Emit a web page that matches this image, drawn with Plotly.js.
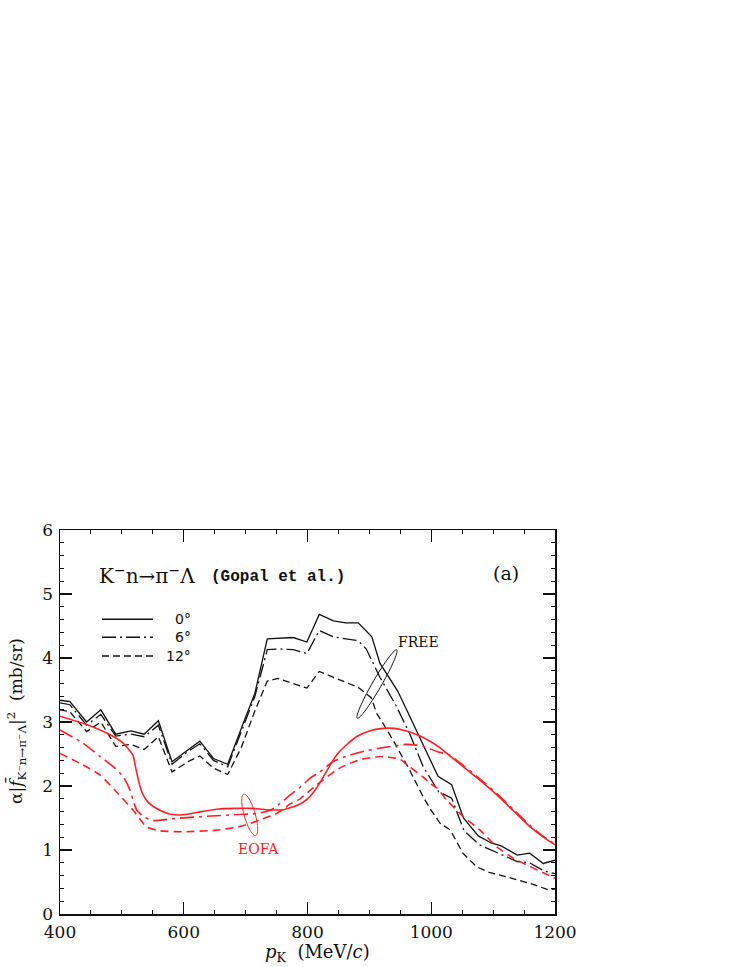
<!DOCTYPE html>
<html>
<head>
<meta charset="utf-8">
<script src="https://cdn.plot.ly/plotly-3.0.1.min.js"></script>
<style>
html,body{margin:0;padding:0;background:#fff;}
#chart{width:747px;height:967px;}
</style>
</head>
<body>
<div id="chart"></div>
<script>
// ---- FREE (black) curves ----
const freeX0 = [400,416,443,466,490,515,536,559,581,607,626,648,671,695,715,735,755,777,799,819,842,862,882,904,917,946,968,1011,1033,1052,1076,1097,1114,1139,1159,1181,1200];
const freeY0 = [3.34,3.32,3.00,3.19,2.81,2.86,2.81,3.02,2.38,2.57,2.70,2.43,2.34,2.95,3.45,4.30,4.31,4.32,4.25,4.68,4.58,4.55,4.55,4.33,3.92,3.48,3.03,2.15,2.02,1.50,1.22,1.11,1.06,0.92,0.95,0.79,0.84];

const freeX6 = [400,416,443,466,490,515,536,559,581,607,626,648,671,695,715,735,755,777,799,819,842,862,882,895,917,944,965,987,1012,1033,1053,1078,1096,1114,1139,1159,1183,1200];
const freeY6 = [3.30,3.27,2.95,3.12,2.78,2.81,2.77,2.95,2.34,2.54,2.66,2.40,2.30,2.90,3.40,4.13,4.14,4.13,4.07,4.43,4.33,4.30,4.27,4.14,3.70,3.24,2.82,2.30,1.91,1.81,1.30,1.08,1.00,0.93,0.82,0.80,0.67,0.63];

const freeX12 = [400,416,443,466,490,515,536,559,581,607,626,648,671,693,714,735,752,799,819,842,862,882,903,912,922,941,965,987,998,1014,1031,1051,1073,1095,1122,1159,1189,1200];
const freeY12 = [3.19,3.16,2.85,3.00,2.62,2.65,2.57,2.77,2.22,2.38,2.47,2.28,2.18,2.60,3.15,3.64,3.68,3.53,3.79,3.70,3.62,3.54,3.38,3.13,2.98,2.67,2.25,1.83,1.65,1.42,1.31,0.95,0.74,0.645,0.58,0.48,0.38,0.39];

// ---- EOFA (red) curves ----
const eofaX0 = [400,446,481,502,518,522,527,533,541,551,564,578,599,629,656,683,710,734,761,772,788,800,812,825,838,850,865,879,900,922,940,960,980,998,1014,1030,1052,1080,1106,1133,1160,1180,1200];
const eofaY0 = [3.09,2.95,2.80,2.67,2.48,2.30,2.08,1.89,1.76,1.68,1.61,1.56,1.55,1.60,1.64,1.65,1.65,1.63,1.63,1.66,1.72,1.80,1.93,2.13,2.35,2.52,2.66,2.77,2.86,2.90,2.90,2.86,2.79,2.70,2.60,2.47,2.30,2.08,1.86,1.61,1.36,1.21,1.08];

const eofaX6 = [400,437,465,490,502,513,518,524,535,551,583,626,680,718,740,755,772,788,804,820,841,868,890,922,960,987,1009,1030,1052,1080,1106,1133,1160,1180,1200];
const eofaY6 = [2.875,2.67,2.46,2.27,2.15,1.94,1.78,1.625,1.52,1.46,1.49,1.52,1.55,1.57,1.62,1.72,1.86,1.98,2.12,2.22,2.38,2.48,2.54,2.60,2.65,2.62,2.54,2.48,2.32,2.10,1.88,1.63,1.38,1.22,1.09];

const eofaX12 = [400,437,465,491,518,540,561,599,653,685,700,723,750,761,772,788,815,852,884,917,949,965,987,998,1009,1025,1052,1079,1106,1133,1160,1180,1200];
const eofaY12 = [2.51,2.33,2.17,1.91,1.625,1.36,1.30,1.285,1.31,1.355,1.39,1.47,1.57,1.64,1.72,1.80,2.02,2.28,2.41,2.46,2.42,2.30,2.14,2.04,1.97,1.78,1.52,1.31,1.05,0.87,0.74,0.65,0.56];

// tick labels / legend labels
const xTickVals = [400,600,800,1000,1200];
const yTickVals = [0,1,2,3,4,5,6];
const legendLabels = ['0°','6°','12°'];

const RED = 'rgb(255,32,40)';
const BLACK = '#111';

const serif = '"DejaVu Serif", "Liberation Serif", serif';

const traces = [
  {x: freeX0, y: freeY0, mode:'lines', line:{color:BLACK, width:1.3}},
  {x: freeX6, y: freeY6, mode:'lines', line:{color:BLACK, width:1.3, dash:'14px,4px,2px,4px'}},
  {x: freeX12, y: freeY12, mode:'lines', line:{color:BLACK, width:1.3, dash:'7px,4px'}},
  {x: eofaX0, y: eofaY0, mode:'lines', line:{color:RED, width:1.6, shape:'spline', smoothing:0.5}},
  {x: eofaX6, y: eofaY6, mode:'lines', line:{color:RED, width:1.6, shape:'spline', smoothing:0.5, dash:'14px,5px,3px,5px'}},
  {x: eofaX12, y: eofaY12, mode:'lines', line:{color:RED, width:1.6, shape:'spline', smoothing:0.5, dash:'8px,5px'}}
];

// plot geometry (pixels) used for decorative shapes
const L = 60, R = 555, T = 530, B = 914;
function px2paper(px, py){ return [(px-L)/(R-L), (B-py)/(B-T)]; }
function ellipsePath(cx, cy, a, b, ux, uy){
  const n = Math.hypot(ux, uy); ux/=n; uy/=n;
  const vx = -uy, vy = ux;
  let d = '';
  for(let i=0;i<=72;i++){
    const t = i/72*2*Math.PI;
    const px = cx + a*Math.cos(t)*ux + b*Math.sin(t)*vx;
    const py = cy + a*Math.cos(t)*uy + b*Math.sin(t)*vy;
    const p = px2paper(px, py);
    d += (i===0?'M':'L') + p[0].toFixed(5) + ',' + p[1].toFixed(5);
  }
  return d + 'Z';
}

const legendY = [619.3, 637.3, 656];
const legendDash = ['solid', '14px,4px,2px,4px', '7px,4px'];
const shapes = [];
legendY.forEach((py, i) => {
  const a = px2paper(102, py), b = px2paper(153, py);
  shapes.push({type:'line', xref:'paper', yref:'paper', x0:a[0], y0:a[1], x1:b[0], y1:b[1],
    line:{color:BLACK, width:1.5, dash:legendDash[i]}});
});
shapes.push({type:'path', xref:'paper', yref:'paper', path: ellipsePath(377, 684, 39.5, 4.5, 19.7, -34.2), line:{color:BLACK, width:1}});
shapes.push({type:'path', xref:'paper', yref:'paper', path: ellipsePath(249.7, 814.8, 21.5, 5.5, 12, 41.3), line:{color:RED, width:1}});

const annotations = [];
function ann(text, px, py, opts){
  const p = px2paper(px, py);
  annotations.push(Object.assign({text:text, x:p[0], y:p[1], xref:'paper', yref:'paper', showarrow:false,
    xanchor:'center', yanchor:'middle', font:{family:serif, size:15, color:BLACK}}, opts||{}));
}
ann('K<sup>−</sup>n→π<sup>−</sup>Λ', 97, 575, {xanchor:'left', font:{family:serif, size:20, color:BLACK}});
ann('<b>(Gopal et al.)</b>', 209, 577, {xanchor:'left', font:{family:'"Liberation Mono", "Courier New", monospace', size:16, color:BLACK}});
ann('(a)', 506, 573, {font:{family:serif, size:19, color:BLACK}});
ann('FREE', 418.5, 642, {font:{family:serif, size:14, color:BLACK}});
ann('EOFA', 258.5, 849, {font:{family:serif, size:14, color:RED}});
legendLabels.forEach((t, i) => {
  ann(t, 193, legendY[i], {xanchor:'right', font:{family:'"DejaVu Sans", sans-serif', size:14, color:BLACK}});
});
ann('α|<i>f̄</i><sub>K⁻n→π⁻Λ</sub>|<sup>2</sup>  (mb/sr)', 16, 721, {textangle:-90, font:{family:serif, size:17, color:BLACK}});
ann('<i>p</i><sub>K</sub>  (MeV/<i>c</i>)', 317, 953, {font:{family:serif, size:18, color:BLACK}});

const layout = {
  width: 747, height: 967,
  margin: {l: L, r: 747-R, t: T, b: 967-B, pad: 0},
  paper_bgcolor: '#fff', plot_bgcolor: '#fff',
  showlegend: false,
  xaxis: {
    range: [400, 1200], tickvals: xTickVals, ticktext: xTickVals.map(String),
    ticks: 'inside', ticklen: 12, tickwidth: 1.3, tickcolor: BLACK,
    showline: true, linewidth: 1.5, linecolor: BLACK, mirror: 'ticks',
    showgrid: false, zeroline: false,
    minor: {dtick: 50, ticks: 'inside', ticklen: 4, tickwidth: 1.1, tickcolor: BLACK, showgrid:false},
    tickfont: {family: serif, size: 17, color: BLACK},
    ticklabelstandoff: 2,
    fixedrange: true
  },
  yaxis: {
    range: [0, 6], tickvals: yTickVals, ticktext: yTickVals.map(String),
    ticks: 'inside', ticklen: 12, tickwidth: 1.3, tickcolor: BLACK,
    showline: true, linewidth: 1.5, linecolor: BLACK, mirror: 'ticks',
    showgrid: false, zeroline: false,
    minor: {dtick: 0.2, ticks: 'inside', ticklen: 4, tickwidth: 1.1, tickcolor: BLACK, showgrid:false},
    tickfont: {family: serif, size: 17, color: BLACK},
    ticklabelstandoff: 2,
    fixedrange: true
  },
  shapes: shapes,
  annotations: annotations
};

Plotly.newPlot('chart', traces, layout, {displayModeBar: false, staticPlot: true});
</script>
</body>
</html>
